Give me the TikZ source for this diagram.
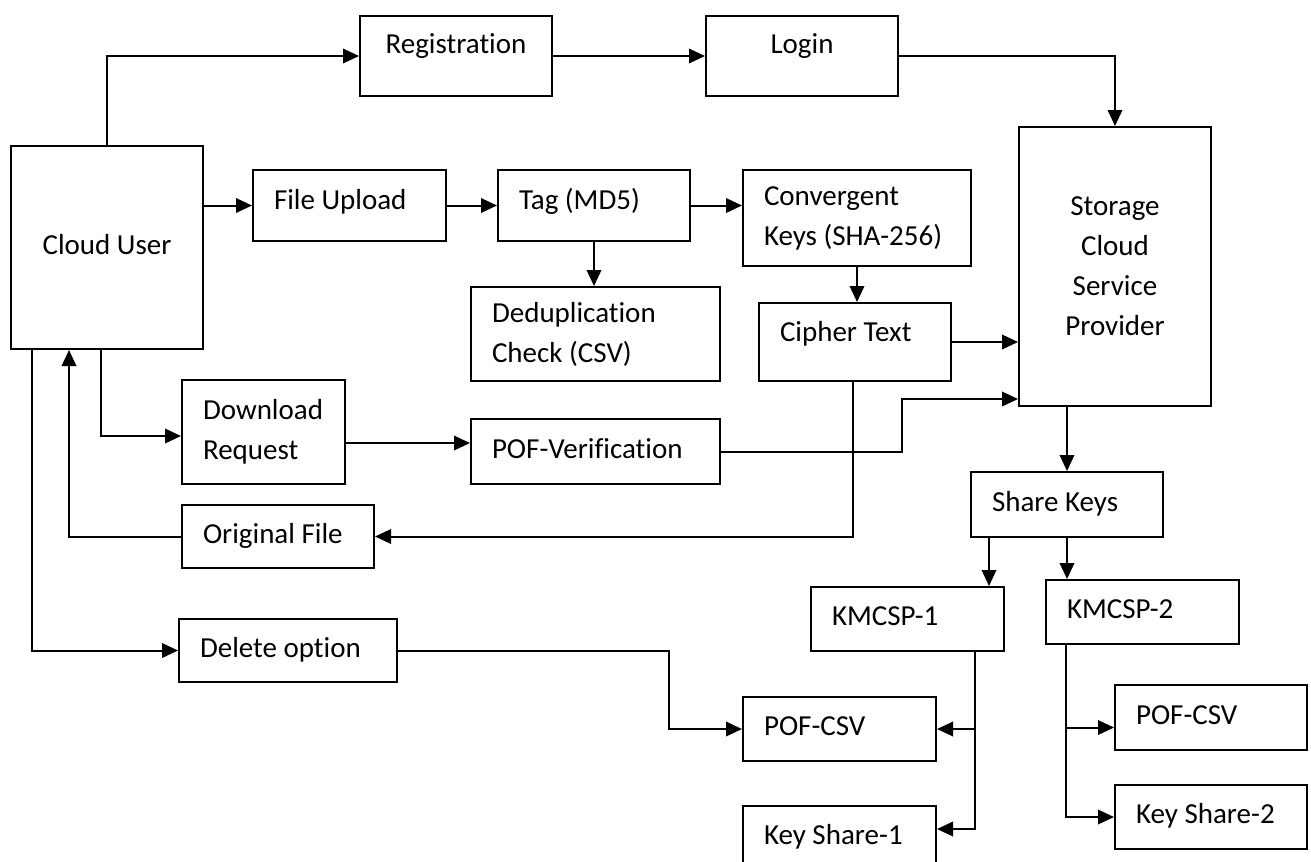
\documentclass[tikz,border=0pt]{standalone}
\usepackage{fontspec}
\setmainfont{Carlito}[Ligatures=NoCommon]
\usetikzlibrary{arrows.meta, positioning, calc}

\begin{document}
\begin{tikzpicture}[
        x=0.2mm, y=-0.2mm,
        frame/.style={rectangle, draw, line width=0.4mm, anchor=north west, inner ysep=1mm, inner xsep=4.2mm,
                      font=\fontsize{16.5pt}{22.8pt}\selectfont, text height=11.5pt, text depth=4pt},
        cbox/.style={frame, align=flush center, minimum width=#1},
        lbox/.style={frame, align=flush left, text width=#1},
        multi/.style={text height={}, text depth={}},
        line/.style={-{Triangle[length=3.2mm, width=2.9mm]}, line width=0.4mm}
    ]
    \path[use as bounding box, clip] (0,0) rectangle (1311,861);

    \node[cbox=38.4mm, minimum height=40.6mm] (user) at (10,145) {Cloud User};
    \node[cbox=38.4mm, minimum height=16mm, text depth=13.8pt] (reg) at (359,15) {Registration};
    \node[cbox=38.4mm, minimum height=16mm, text depth=13.8pt] (login) at (705,15) {Login};
    \node[lbox=30.2mm, minimum height=14.2mm, text depth=7.5pt] (upload) at (252,169) {File Upload};
    \node[lbox=30mm, minimum height=14.2mm, text depth=7.5pt] (tag) at (497,169) {Tag (MD5)};
    \node[lbox=37.2mm, minimum height=19.2mm, multi] (conv) at (742,169) {Convergent\\Keys (SHA-256)};
    \node[lbox=41.4mm, minimum height=18.8mm, multi] (dedup) at (470,286) {Deduplication\\Check (CSV)};
    \node[lbox=30mm, minimum height=15.6mm, text depth=12.6pt] (cipher) at (758,302) {Cipher Text};
    \node[cbox=38.4mm, minimum height=55.8mm, multi] (storage) at (1018,126) {Storage\\Cloud\\Service\\Provider};
    \node[lbox=24.2mm, minimum height=20.8mm, multi] (dlreq) at (181,379) {Download\\Request};
    \node[lbox=41.4mm, minimum height=13mm] (pofver) at (470,418) {POF-Verification};
    \node[lbox=30mm, minimum height=12.6mm] (orig) at (181,504) {Original File};
    \node[lbox=35.2mm, minimum height=12.6mm] (delete) at (178,618) {Delete option};
    \node[lbox=30mm, minimum height=13mm] (share) at (970,471) {Share Keys};
    \node[lbox=30.2mm, minimum height=12.8mm] (kmcsp1) at (810,586) {KMCSP-1};
    \node[lbox=30.2mm, minimum height=12.8mm] (kmcsp2) at (1045,579) {KMCSP-2};
    \node[lbox=30.2mm, minimum height=12.8mm] (pofcsv1) at (742,696) {POF-CSV};
    \node[lbox=30.2mm, minimum height=12.8mm] (kshare1) at (742,805) {Key Share-1};
    \node[lbox=30mm, minimum height=13mm] (pofcsv2) at (1114,684) {POF-CSV};
    \node[lbox=30mm, minimum height=12.8mm] (kshare2) at (1114,784) {Key Share-2};

    \draw[line] (user.north) |- (reg.west);
    \draw[line] (reg) -- (login);
    \draw[line] (login.east) -| (storage.north);
    \draw[line] (user.east |- upload.west) -- (upload.west);
    \draw[line] (upload) -- (tag);
    \draw[line] (tag.east) -- (tag.east -| conv.west);
    \draw[line] (tag.south) -- (tag.south |- dedup.north);
    \draw[line] (conv.south) -- (conv.south |- cipher.north);
    \draw[line] (cipher.east) -- (cipher.east -| storage.west);
    \coordinate (vin) at ([xshift=-23.2mm, yshift=1.6mm]storage.south west);
    \draw[line] (pofver.east) -| (vin) -- (vin -| storage.west);
    \draw[line] (share.north |- storage.south) -- (share.north);
    \coordinate (s1) at ([xshift=3.8mm]share.south west);
    \draw[line] (s1) -- (s1 |- kmcsp1.north);
    \draw[line] (share.south) -- (share.south |- kmcsp2.north);
    \coordinate (k1) at ([xshift=-6mm]kmcsp1.south east);
    \coordinate (ks1) at ([yshift=-4.8mm]kshare1.north east);
    \draw[line] (k1) |- (pofcsv1.east);
    \draw[line] (k1) |- (ks1);
    \coordinate (k2) at ([xshift=4.2mm]kmcsp2.south west);
    \draw[line] (k2) |- ([yshift=-2mm]pofcsv2.west);
    \draw[line] (k2) |- (kshare2.west);
    \draw[line] ([xshift=4.4mm]user.south west) |- (delete.west);
    \draw[line] (orig.west) -| ([xshift=11.8mm]user.south west);
    \draw[line] ([xshift=18.2mm]user.south west) |- ([yshift=-0.8mm]dlreq.west);
    \coordinate (pv) at ([yshift=1.7mm]pofver.west);
    \draw[line] (dlreq.east |- pv) -- (pv);
    \draw[line] ([xshift=-0.4mm]cipher.south) |- (orig.east);
    \draw[line] (delete.east) -| ([xshift=-14.6mm]pofcsv1.west) -- (pofcsv1.west);
\end{tikzpicture}
\end{document}
